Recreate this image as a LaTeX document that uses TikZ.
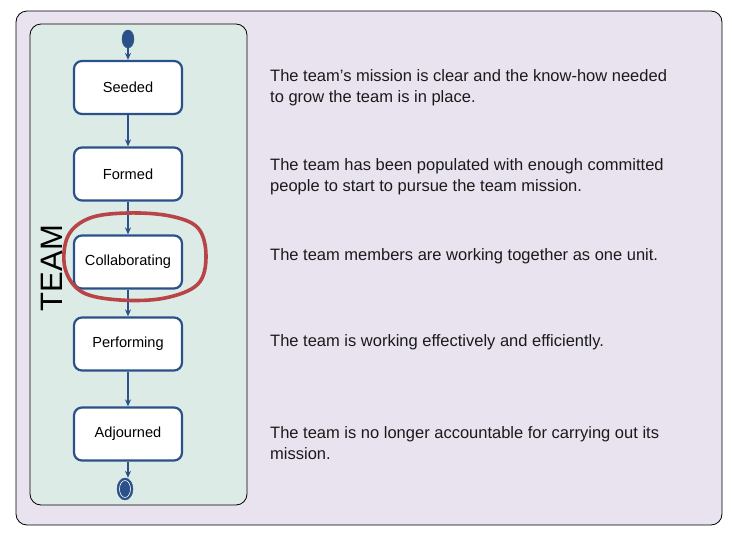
\documentclass[tikz,border=0pt]{standalone}
\usepackage{fontspec}
\setmainfont{Liberation Sans}
\usepackage{tikz}
\usetikzlibrary{arrows.meta,positioning,shapes.geometric}
\definecolor{stateblue}{HTML}{2A5189}
\definecolor{panelbg}{HTML}{E9E3F0}
\definecolor{laneteal}{HTML}{DDEBE7}
\definecolor{inkgrey}{HTML}{1A1A1A}
\definecolor{markred}{HTML}{B84447}
\tikzset{
  statebox/.style = {rounded corners=8pt, draw=stateblue, fill=white, line width=2.2pt,
                     text=black, minimum width=108pt, minimum height=53pt,
                     font=\fontsize{14.6}{16}\selectfont},
  dotnode/.style  = {ellipse, fill=stateblue, draw=stateblue, inner sep=0pt},
  flow/.style     = {-{Stealth[length=7pt,width=6pt]}, draw=stateblue, line width=1.6pt},
  note/.style     = {anchor=west, align=left, text=inkgrey, inner sep=0pt,
                     font=\fontsize{16.5}{20.8}\selectfont},
}

\begin{document}
\begin{tikzpicture}[x=1pt,y=-1pt]
    \useasboundingbox (0,0) rectangle (732,536);
    \draw[fill=panelbg, rounded corners=11pt, line width=0.8pt] (16,11) rectangle (722,525);
    \draw[fill=laneteal, rounded corners=11pt, line width=0.8pt] (30,24) rectangle (247,505);
    \node[rotate=90, font=\fontsize{31}{31}\selectfont] (team) at (52,268) {TEAM};

    \node[dotnode, minimum width=12pt, minimum height=18pt] (start) at (128,39) {};
    \node[statebox] (seeded) at (128,87.5) {Seeded};
    \node[statebox, below=31.3pt of seeded] (formed) {Formed};
    \node[statebox, below=32.8pt of formed] (collab) {Collaborating};
    \node[statebox, below=26.8pt of collab] (perform) {Performing};
    \node[statebox, below=34.8pt of perform] (adjourned) {Adjourned};
    \node[dotnode, minimum width=16pt, minimum height=22pt] (finish) at (125,489) {};
    \draw[white, line width=0.6pt] (finish.center) ellipse (5.5 and 8.5);

    \draw[flow] (start) -- (seeded);
    \draw[flow] (seeded) -- (formed);
    \draw[flow] (formed) -- (collab);
    \draw[flow] (collab) -- (perform);
    \draw[flow] (perform) -- (adjourned);
    \draw[flow] (adjourned.south) -- (adjourned.south |- finish.north);

    % hand drawn mark
    \draw[markred, line width=3.6pt, line cap=round]
      plot[smooth cycle, tension=0.6] coordinates {(128,213) (170,216) (198,228) (206,256)
        (198,284) (165,298) (120,300) (82,292) (65,268) (68,236) (90,218)};

    \node[note] (t1) at (270,88)  {The team’s mission is clear and the know-how needed\\to grow the team is in place.};
    \node[note] (t2) at (270,177) {The team has been populated with enough committed\\people to start to pursue the team mission.};
    \node[note] (t3) at (270,256) {The team members are working together as one unit.};
    \node[note] (t4) at (270,342) {The team is working effectively and efficiently.};
    \node[note] (t5) at (270,443) {The team is no longer accountable for carrying out its\\mission.};
  \end{tikzpicture}
\end{document}
